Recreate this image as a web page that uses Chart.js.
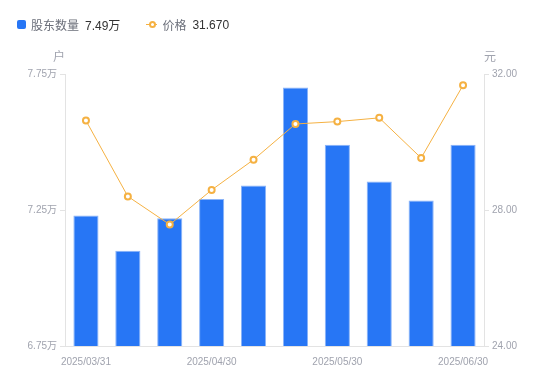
<!DOCTYPE html>
<html>
<head>
<meta charset="utf-8">
<script src="https://cdn.jsdelivr.net/npm/chart.js@4"></script>
<style>
  html, body { margin: 0; padding: 0; background: #fff; }
  #wrap { position: relative; width: 550px; height: 381px; }
  #legend {
    position: absolute; left: 17px; top: 16px;
    font: 12px "Liberation Sans", "Noto Sans CJK SC", sans-serif;
    color: #6b6f7a; display: flex; align-items: center;
  }
  #legend .item { display: flex; align-items: center; margin-right: 26px; }
  #legend .val { color: #333; margin-left: 6px; }
  #legend .sq { width: 9px; height: 9px; background: #2776f5; border-radius: 2px; margin-right: 5px; }
  #legend .ln { position: relative; width: 11px; height: 9px; margin-right: 5px; }
  #legend .ln:before { content: ""; position: absolute; left: 0; right: 0; top: 4px; height: 1px; background: #f5b142; }
  #legend .ln:after { content: ""; position: absolute; left: 2.5px; top: 1px; width: 3px; height: 3px; border: 2px solid #f5b142; border-radius: 50%; background: #fff; }
</style>
</head>
<body>
<div id="wrap">
  <canvas id="c" width="550" height="381"></canvas>
  <div id="legend">
    <div class="item"><span class="sq"></span>股东数量<span class="val">7.49万</span></div>
    <div class="item"><span class="ln"></span>价格<span class="val">31.670</span></div>
  </div>
</div>
<script>
const categories = ["2025/03/31", "2025/04/10", "2025/04/20", "2025/04/30", "2025/05/10",
                    "2025/05/20", "2025/05/30", "2025/06/10", "2025/06/20", "2025/06/30"];
const holders = [7.23, 7.10, 7.22, 7.29, 7.34, 7.70, 7.49, 7.355, 7.285, 7.49];   // 万户
const price = [30.63, 28.40, 27.57, 28.59, 29.48, 30.53, 30.60, 30.71, 29.53, 31.67]; // 元
const leftTicks = { min: 6.75, max: 7.75, step: 0.5 };
const rightTicks = { min: 24, max: 32, step: 4 };
const shownLabels = [0, 3, 6, 9];

const tickColor = "#a0a3ae";
const axisColor = "#e3e3e3";
const fontFamily = "'Liberation Sans', 'Noto Sans CJK SC', sans-serif";

const unitTitles = {
    id: "unitTitles",
    afterDraw(chart) {
        const ctx = chart.ctx;
        const top = chart.chartArea.top;
        ctx.save();
        ctx.font = "12px " + fontFamily;
        ctx.fillStyle = tickColor;
        ctx.textBaseline = "middle";
        ctx.textAlign = "center";
        ctx.fillText("户", chart.scales.y.right - 6, top - 16);
        ctx.fillText("元", chart.scales.y1.left + 6, top - 16);
        ctx.restore();
    },
};

new Chart(document.getElementById("c"), {
    data: {
        labels: categories,
        datasets: [
            {
                type: "line",
                label: "价格",
                data: price,
                yAxisID: "y1",
                borderColor: "#f5b142",
                borderWidth: 1,
                pointRadius: 3,
                pointBorderWidth: 2,
                pointBackgroundColor: "#fff",
                pointBorderColor: "#f5b142",
                tension: 0,
                order: 0,
            },
            {
                type: "bar",
                label: "股东数量",
                data: holders,
                yAxisID: "y",
                backgroundColor: "#2776f5",
                borderColor: "#8bb4f8",
                borderWidth: { top: 1, left: 1, right: 1, bottom: 0 },
                categoryPercentage: 0.6,
                barPercentage: 1,
                order: 1,
            },
        ],
    },
    options: {
        responsive: false,
        animation: false,
        layout: { padding: { top: 74, left: 0, right: 0, bottom: 0 } },
        plugins: { legend: { display: false }, tooltip: { enabled: false } },
        scales: {
            x: {
                grid: { display: false },
                border: { display: true, color: axisColor },
                ticks: {
                    autoSkip: false,
                    maxRotation: 0,
                    color: tickColor,
                    padding: 2,
                    font: { size: 10, family: fontFamily },
                    callback: (v, i) => (shownLabels.includes(i) ? categories[i] : ""),
                },
                afterFit: (s) => { s.height = 35; },
            },
            y: {
                position: "left",
                min: leftTicks.min,
                max: leftTicks.max,
                grid: { drawOnChartArea: false, color: axisColor, tickLength: 5 },
                border: { display: true, color: axisColor },
                ticks: {
                    stepSize: leftTicks.step,
                    color: tickColor,
                    padding: 3,
                    font: { size: 10, family: fontFamily },
                    callback: (v) => v.toFixed(2) + "万",
                },
                afterFit: (s) => { s.width = 65; },
            },
            y1: {
                position: "right",
                min: rightTicks.min,
                max: rightTicks.max,
                grid: { drawOnChartArea: false, color: axisColor, tickLength: 5 },
                border: { display: true, color: axisColor },
                ticks: {
                    stepSize: rightTicks.step,
                    color: tickColor,
                    padding: 3,
                    font: { size: 10, family: fontFamily },
                    callback: (v) => v.toFixed(2),
                },
                afterFit: (s) => { s.width = 66; },
            },
        },
    },
    plugins: [unitTitles],
});
</script>
</body>
</html>
